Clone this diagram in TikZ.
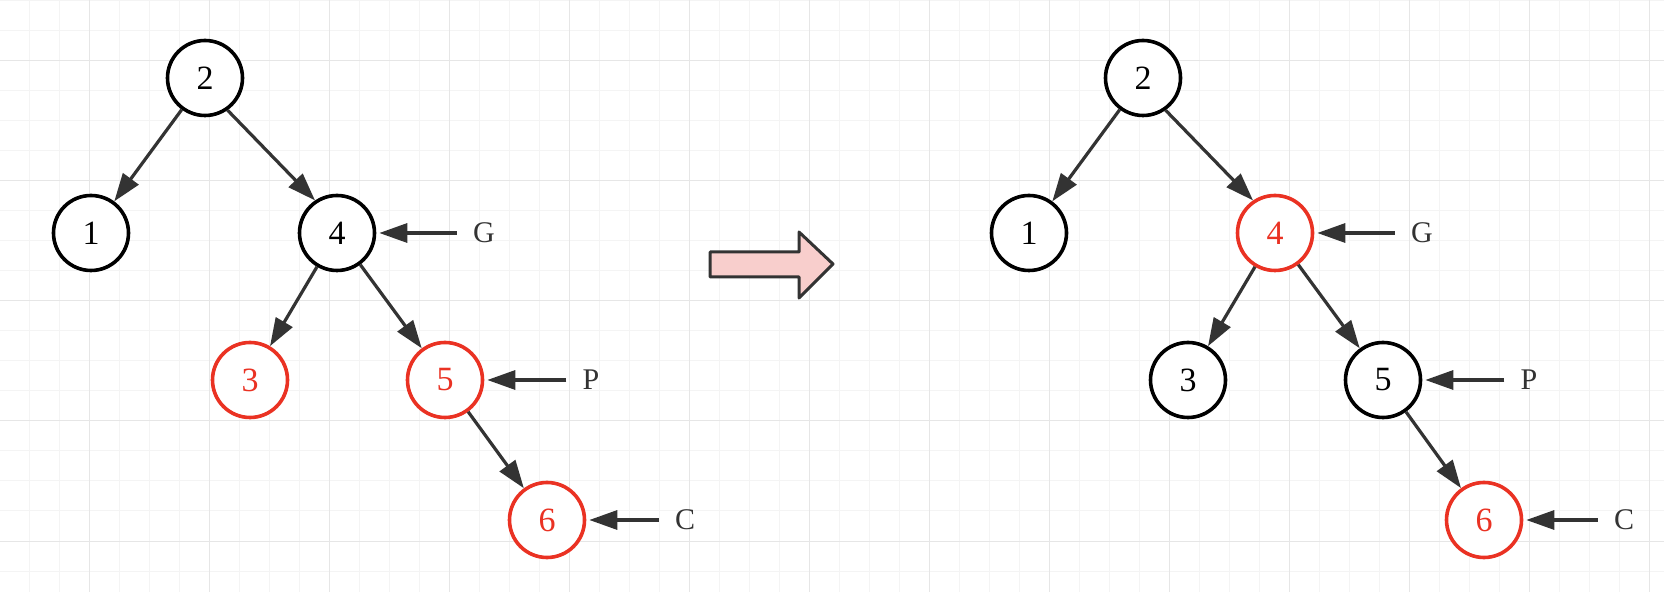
\documentclass[tikz,border=0pt]{standalone}
\usepackage{fontspec}
\setmainfont{Liberation Serif}
\usetikzlibrary{arrows.meta}
\definecolor{NodeRed}{RGB}{234,50,35}
\definecolor{EdgeGray}{RGB}{51,51,51}
\definecolor{GridMinor}{RGB}{244,244,244}
\definecolor{GridMajor}{RGB}{230,230,230}
\definecolor{ArrowPink}{RGB}{248,206,204}

\begin{document}
\begin{tikzpicture}[x=0.5pt,y=-0.5pt,>={Triangle[length=14pt,width=9.5pt]},
    tnode/.style={circle,draw=black,fill=white,line width=1.8pt,minimum size=37.5pt,
      inner sep=0pt,font=\fontsize{17}{17}\selectfont},
    rnode/.style={tnode,draw=NodeRed,text=NodeRed},
    edge/.style={->,draw=EdgeGray,line width=1.6pt},
    tag/.style={inner sep=0pt,text=EdgeGray,font=\fontsize{15}{15}\selectfont},
    pointer/.style={edge,shorten <=8pt,shorten >=1.5pt}]
  \useasboundingbox (0,0) rectangle (1664,592);
  \fill[white] (0,0) rectangle (1664,592);
  % grid paper
  \foreach \x in {29,59,...,1649}
    \draw[GridMinor,line width=0.5pt] (\x,0) -- (\x,592);
  \foreach \y in {1,31,...,571}
    \draw[GridMinor,line width=0.5pt] (0,\y) -- (1664,\y);
  \foreach \x in {89,209,...,1649}
    \draw[GridMajor,line width=0.5pt] (\x,0) -- (\x,592);
  \foreach \y in {61,181,...,541}
    \draw[GridMajor,line width=0.5pt] (0,\y) -- (1664,\y);

  % before
  \node[tnode] (a2) at (205,78) {2};
  \node[tnode] (a1) at (91,233) {1};
  \node[tnode] (a4) at (337,233) {4};
  \node[rnode] (a3) at (250,380) {3};
  \node[rnode] (a5) at (445,380) {5};
  \node[rnode] (a6) at (547,520) {6};
  \draw[edge] (a2) -- (a1);
  \draw[edge] (a2.-55) -- (a4.124);
  \draw[edge] (a4) -- (a3);
  \draw[edge] (a4) -- (a5);
  \draw[edge] (a5) -- (a6);
  \node[tag] (ag) at (484,233) {G};
  \node[tag] (ap) at (591,380) {P};
  \node[tag] (ac) at (685,520) {C};
  \draw[pointer] (ag) -- (a4);
  \draw[pointer] (ap) -- (a5);
  \draw[pointer] (ac) -- (a6);

  % block arrow
  \draw[draw=EdgeGray,fill=ArrowPink,line width=1.5pt,line join=round]
    (710,252) -- (799,252) -- (799,232) -- (833,264) -- (799,298)
    -- (799,277) -- (710,277) -- cycle;

  % after
  \node[tnode] (b2) at (1143,78) {2};
  \node[tnode] (b1) at (1029,233) {1};
  \node[rnode] (b4) at (1275,233) {4};
  \node[tnode] (b3) at (1188,380) {3};
  \node[tnode] (b5) at (1383,380) {5};
  \node[rnode] (b6) at (1484,520) {6};
  \draw[edge] (b2) -- (b1);
  \draw[edge] (b2.-55) -- (b4.124);
  \draw[edge] (b4) -- (b3);
  \draw[edge] (b4) -- (b5);
  \draw[edge] (b5) -- (b6);
  \node[tag] (bg) at (1422,233) {G};
  \node[tag] (bp) at (1529,380) {P};
  \node[tag] (bc) at (1624,520) {C};
  \draw[pointer] (bg) -- (b4);
  \draw[pointer] (bp) -- (b5);
  \draw[pointer] (bc) -- (b6);
\end{tikzpicture}
\end{document}
